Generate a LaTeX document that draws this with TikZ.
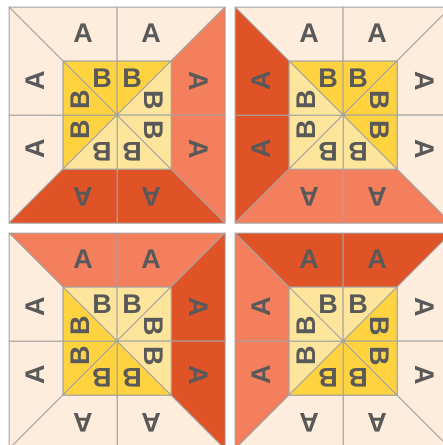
\documentclass[tikz,border=0pt]{standalone}
\usepackage{fontspec}
\setmainfont{Liberation Sans}
\definecolor{cream}{HTML}{FEECDC}
\definecolor{salmon}{HTML}{F47F5D}
\definecolor{rust}{HTML}{E05327}
\definecolor{gold}{HTML}{FFD23F}
\definecolor{pale}{HTML}{FDE69B}
\definecolor{seam}{HTML}{A3A3A3}
\definecolor{ink}{HTML}{595959}

\begin{document}
\begin{tikzpicture}[x=1pt,y=1pt,
  patch/.style={draw=seam,line width=1pt,line join=round},
  letter/.style={font=\fontsize{27}{27}\selectfont\bfseries,text=ink,inner sep=0pt}]
  \useasboundingbox (0,0) rectangle (443,-445);
  \clip (0,0) rectangle (443,-445);
  % blocks: number/centre x/centre y/outer top,left,bottom,right/inner top,left,bottom,right
  \foreach \b/\cx/\cy/\otop/\oleft/\obot/\oright/\itop/\ileft/\ibot/\iright in {
      1/117/115/cream/cream/rust/salmon/gold/gold/pale/pale,
      2/343/115/cream/rust/salmon/cream/gold/pale/pale/gold,
      3/117/341/salmon/cream/cream/rust/pale/gold/gold/pale,
      4/343/341/rust/salmon/cream/cream/pale/pale/gold/gold}{
    \begin{scope}[shift={(\cx,-\cy)}]
      \foreach \k/\oc/\ic in {0/\otop/\itop,1/\oleft/\ileft,2/\obot/\ibot,3/\oright/\iright}{
        \begin{scope}[rotate=90*\k]
          % outer trapezoid, two halves
          \filldraw[patch,fill=\oc] (-108,108) -- (0,108) -- (0,54) -- (-54,54) -- cycle;
          \filldraw[patch,fill=\oc] (0,108) -- (108,108) -- (54,54) -- (0,54) -- cycle;
          % inner triangles
          \filldraw[patch,fill=\ic] (-54,54) -- (0,54) -- (0,0) -- cycle;
          \filldraw[patch,fill=\ic] (0,54) -- (54,54) -- (0,0) -- cycle;
          \node[letter,rotate=90*\k] (a\b-\k-1) at (-34,82) {A};
          \node[letter,rotate=90*\k] (a\b-\k-2) at (34,82) {A};
          \node[letter,rotate=90*\k] (b\b-\k-1) at (-15,37) {B};
          \node[letter,rotate=90*\k] (b\b-\k-2) at (15,37) {B};
        \end{scope}
      }
    \end{scope}
  }
\end{tikzpicture}
\end{document}
